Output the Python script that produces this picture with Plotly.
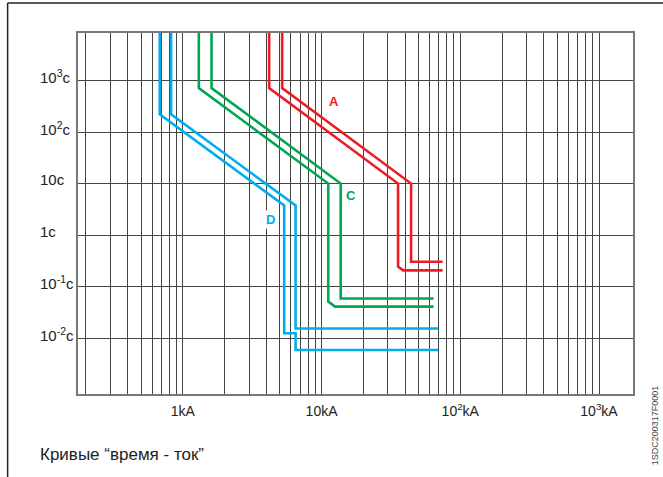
import math
import plotly.graph_objects as go

# time-current curves, current in kA, time in s
a1_i = [4.19, 4.19, 35.6, 35.6, 38.7, 74.5]
a1_t = [1e4, 712, 10, 0.245, 0.207, 0.207]
a2_i = [5.2, 5.2, 44.2, 44.2, 74.5]
a2_t = [1e4, 712, 10, 0.305, 0.305]

c1_i = [1.304, 1.304, 11.18, 11.18, 12.5, 64.2]
c1_t = [1e4, 712, 10, 0.0513, 0.041, 0.041]
c2_i = [1.61, 1.61, 13.74, 13.74, 64.2]
c2_t = [1e4, 712, 10, 0.0592, 0.0592]

d1_i = [0.682, 0.682, 5.38, 5.38, 6.5, 6.5, 69.5]
d1_t = [1e4, 221, 3.75, 0.0125, 0.0125, 0.00593, 0.00593]
d2_i = [0.823, 0.823, 6.5, 6.5, 69.5]
d2_t = [1e4, 221, 3.75, 0.0155, 0.0155]

# grid / ticks
x_major = [1, 10, 100, 1000]
x_labels = ["1kA", "10kA", "10<sup>2</sup>kA", "10<sup>3</sup>kA"]
x_minor = [m * 10 ** e for e in range(-1, 3) for m in range(2, 10)]
y_grid = [1e-2, 1e-1, 1, 10, 1e2, 1e3]
y_labels = ["10<sup>-2</sup>c", "10<sup>-1</sup>c", "1c", "10c", "10<sup>2</sup>c", "10<sup>3</sup>c"]

RED = "#ed1c24"
GREEN = "#00a651"
BLUE = "#00aeef"

fig = go.Figure()
for xs, ys, col in [(a1_i, a1_t, RED), (a2_i, a2_t, RED),
                    (c1_i, c1_t, GREEN), (c2_i, c2_t, GREEN),
                    (d1_i, d1_t, BLUE), (d2_i, d2_t, BLUE)]:
    fig.add_trace(go.Scatter(x=xs, y=ys, mode="lines",
                             line=dict(color=col, width=2.6), showlegend=False))

fig.update_layout(
    width=663, height=477,
    margin=dict(l=78, r=30, t=33, b=83),
    paper_bgcolor="white", plot_bgcolor="white",
    font=dict(family="Liberation Sans, Arial, sans-serif", color="#222"),
)
fig.update_xaxes(type="log", range=[-0.7556, 3.245],
                 tickvals=x_major, ticktext=x_labels,
                 tickfont=dict(size=14), ticks="", ticklabelstandoff=3,
                 showgrid=True, gridcolor="#444", gridwidth=1,
                 minor=dict(tickvals=x_minor, showgrid=True, gridcolor="#444",
                            gridwidth=1, ticks=""),
                 showline=True, linecolor="#777", linewidth=1.5, mirror=True,
                 zeroline=False)
fig.update_yaxes(type="log", range=[-3.081, 3.920],
                 tickvals=y_grid, showticklabels=False, ticks="",
                 showgrid=True, gridcolor="#444", gridwidth=1,
                 showline=True, linecolor="#777", linewidth=1.5, mirror=True,
                 zeroline=False)

# y labels, left aligned
for v, txt in zip(y_grid, y_labels):
    fig.add_annotation(x=-0.0727, xref="paper", y=math.log10(v), yref="y",
                       text=txt, showarrow=False, xanchor="left", yanchor="middle",
                       yshift=4, font=dict(size=15, color="#222"))

# curve letters
for lab, xi, ti, col, bg in [("A", 12.35, 391, RED, None),
                             ("C", 16.3, 5.78, GREEN, None),
                             ("D", 4.31, 1.98, BLUE, "white")]:
    fig.add_annotation(x=math.log10(xi), y=math.log10(ti), text="<b>%s</b>" % lab,
                       showarrow=False, font=dict(size=13, color=col),
                       bgcolor=bg, borderpad=1)

fig.add_annotation(x=-0.0727, xref="paper", y=-0.1663, yref="paper",
                   text="Кривые “время - ток”", showarrow=False,
                   xanchor="left", yanchor="middle", font=dict(size=17, color="#222"))
fig.add_annotation(x=1.0402, xref="paper", y=-0.086, yref="paper",
                   text="1SDC200317F0001", showarrow=False, textangle=-90,
                   xanchor="center", yanchor="middle", font=dict(size=9, color="#444"))

# outer frame (top and left edges)
fig.add_shape(type="line", xref="paper", yref="paper", x0=-0.1268, x1=1.2,
              y0=1.0832, y1=1.0832, line=dict(color="#222", width=1.5))
fig.add_shape(type="line", xref="paper", yref="paper", x0=-0.1268, x1=-0.1268,
              y0=-0.3, y1=1.0832, line=dict(color="#222", width=1.5))

# drop the page's default body margin so the figure sits at the top-left corner
fig.write_html("out.html", config={"displayModeBar": False},
               post_script="document.body.style.margin='0';")
